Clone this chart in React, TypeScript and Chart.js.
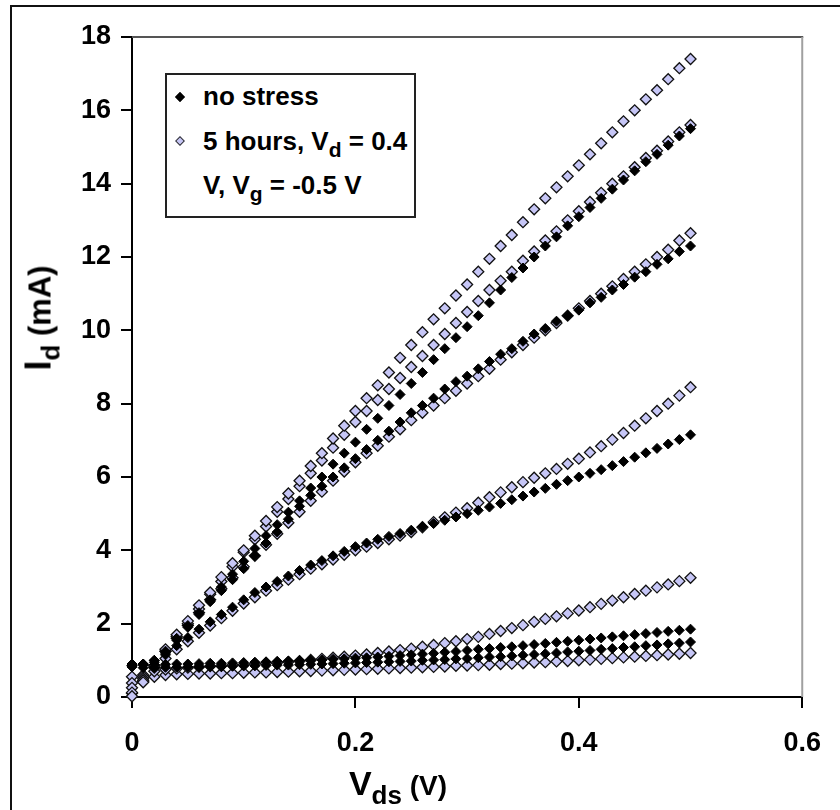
import { useEffect, useRef } from "react";
import { Chart, registerables } from "chart.js";

Chart.register(...registerables);

// Drain-source voltage sweep (V)
const VDS = [
  0, 0.01, 0.02, 0.03, 0.04, 0.05, 0.06, 0.07, 0.08, 0.09,
  0.1, 0.11, 0.12, 0.13, 0.14, 0.15, 0.16, 0.17, 0.18, 0.19,
  0.2, 0.21, 0.22, 0.23, 0.24, 0.25, 0.26, 0.27, 0.28, 0.29,
  0.3, 0.31, 0.32, 0.33, 0.34, 0.35, 0.36, 0.37, 0.38, 0.39,
  0.4, 0.41, 0.42, 0.43, 0.44, 0.45, 0.46, 0.47, 0.48, 0.49, 0.5,
];

// Drain current (mA), unstressed device, one curve per gate bias
const ID_FRESH_1 = [
  0.85, 0.9, 1.0, 1.25, 1.6, 1.95, 2.3, 2.65, 3.0, 3.35,
  3.7, 4.05, 4.4, 4.7, 5.04, 5.35, 5.7, 6.0, 6.35, 6.65,
  6.95, 7.3, 7.6, 7.95, 8.25, 8.55, 8.85, 9.2, 9.5, 9.8,
  10.1, 10.4, 10.75, 11.1, 11.44, 11.7, 12.0, 12.3, 12.55, 12.85,
  13.1, 13.35, 13.6, 13.85, 14.1, 14.35, 14.6, 14.8, 15.05, 15.3, 15.5,
];
const ID_FRESH_2 = [
  0.85, 0.9, 1.0, 1.2, 1.55, 1.9, 2.25, 2.6, 2.9, 3.2,
  3.5, 3.85, 4.2, 4.5, 4.85, 5.2, 5.5, 5.75, 6.0, 6.25,
  6.5, 6.75, 7.0, 7.25, 7.5, 7.75, 7.95, 8.15, 8.4, 8.6,
  8.75, 8.95, 9.15, 9.35, 9.5, 9.7, 9.9, 10.05, 10.25, 10.4,
  10.55, 10.75, 10.9, 11.1, 11.25, 11.45, 11.6, 11.8, 11.95, 12.15, 12.3,
];
const ID_FRESH_3 = [
  0.85, 0.88, 0.95, 1.15, 1.4, 1.62, 1.85, 2.05, 2.25, 2.45,
  2.65, 2.85, 3.0, 3.15, 3.3, 3.45, 3.6, 3.72, 3.85, 3.97,
  4.1, 4.2, 4.3, 4.38, 4.46, 4.55, 4.64, 4.73, 4.82, 4.91,
  5.0, 5.09, 5.18, 5.28, 5.38, 5.48, 5.59, 5.69, 5.8, 5.9,
  6.0, 6.1, 6.2, 6.31, 6.42, 6.54, 6.66, 6.78, 6.9, 7.02, 7.15,
];
const ID_FRESH_4 = [
  0.9, 0.88, 0.88, 0.89, 0.9, 0.9, 0.91, 0.92, 0.92, 0.93,
  0.94, 0.95, 0.96, 0.97, 0.98, 0.99, 1.0, 1.01, 1.03, 1.04,
  1.06, 1.07, 1.09, 1.11, 1.13, 1.15, 1.17, 1.19, 1.22, 1.24,
  1.27, 1.3, 1.32, 1.35, 1.37, 1.4, 1.43, 1.46, 1.49, 1.52,
  1.55, 1.58, 1.61, 1.64, 1.67, 1.7, 1.73, 1.76, 1.79, 1.82, 1.85,
];
const ID_FRESH_5 = [
  0.82, 0.8, 0.8, 0.81, 0.81, 0.82, 0.82, 0.83, 0.83, 0.84,
  0.85, 0.85, 0.86, 0.87, 0.87, 0.88, 0.89, 0.9, 0.91, 0.92,
  0.93, 0.94, 0.95, 0.96, 0.97, 0.98, 1.0, 1.01, 1.02, 1.04,
  1.05, 1.07, 1.09, 1.1, 1.12, 1.14, 1.16, 1.18, 1.2, 1.23,
  1.25, 1.27, 1.3, 1.32, 1.35, 1.37, 1.4, 1.42, 1.45, 1.47, 1.5,
];

// Drain current (mA) after 5 h of stress, one curve per gate bias
const ID_STRESSED_1 = [
  0.02, 0.4, 0.85, 1.3, 1.7, 2.07, 2.5, 2.85, 3.27, 3.65,
  4.0, 4.4, 4.8, 5.18, 5.55, 5.9, 6.3, 6.65, 7.05, 7.4,
  7.8, 8.15, 8.5, 8.85, 9.25, 9.6, 9.95, 10.3, 10.6, 10.95,
  11.25, 11.6, 11.95, 12.3, 12.6, 12.95, 13.3, 13.6, 13.9, 14.2,
  14.5, 14.8, 15.1, 15.4, 15.7, 16.0, 16.3, 16.55, 16.85, 17.15, 17.4,
];
const ID_STRESSED_2 = [
  0.12, 0.45, 0.85, 1.25, 1.65, 2.0, 2.4, 2.8, 3.15, 3.55,
  3.95, 4.3, 4.65, 5.05, 5.4, 5.75, 6.1, 6.45, 6.8, 7.15,
  7.5, 7.8, 8.1, 8.4, 8.7, 9.0, 9.3, 9.6, 9.9, 10.2,
  10.5, 10.8, 11.1, 11.35, 11.6, 11.9, 12.15, 12.45, 12.7, 13.0,
  13.25, 13.5, 13.75, 14.0, 14.2, 14.45, 14.7, 14.9, 15.15, 15.4, 15.6,
];
const ID_STRESSED_3 = [
  0.25, 0.5, 0.85, 1.25, 1.6, 1.95, 2.3, 2.65, 2.95, 3.25,
  3.55, 3.85, 4.15, 4.45, 4.75, 5.05, 5.35, 5.6, 5.9, 6.15,
  6.4, 6.65, 6.85, 7.1, 7.3, 7.55, 7.75, 7.95, 8.15, 8.35,
  8.55, 8.75, 8.95, 9.2, 9.4, 9.6, 9.8, 10.0, 10.2, 10.4,
  10.6, 10.8, 11.0, 11.2, 11.4, 11.6, 11.8, 12.0, 12.2, 12.45, 12.65,
];
const ID_STRESSED_4 = [
  0.38, 0.55, 0.8, 1.05, 1.3, 1.52, 1.75, 1.95, 2.15, 2.35,
  2.55, 2.72, 2.9, 3.05, 3.2, 3.35, 3.5, 3.62, 3.75, 3.88,
  4.0, 4.1, 4.2, 4.3, 4.4, 4.5, 4.63, 4.77, 4.9, 5.03,
  5.15, 5.3, 5.45, 5.58, 5.72, 5.86, 5.98, 6.1, 6.22, 6.36,
  6.5, 6.67, 6.84, 7.02, 7.2, 7.4, 7.6, 7.8, 8.0, 8.22, 8.45,
];
const ID_STRESSED_5 = [
  0.55, 0.6, 0.7, 0.75, 0.78, 0.8, 0.82, 0.84, 0.85, 0.87,
  0.88, 0.9, 0.92, 0.94, 0.96, 0.98, 1.01, 1.04, 1.07, 1.1,
  1.13, 1.16, 1.2, 1.24, 1.28, 1.32, 1.37, 1.42, 1.47, 1.52,
  1.58, 1.64, 1.72, 1.8, 1.88, 1.96, 2.05, 2.13, 2.2, 2.28,
  2.36, 2.45, 2.54, 2.63, 2.72, 2.81, 2.9, 2.99, 3.07, 3.16, 3.25,
];
const ID_STRESSED_6 = [
  0.1, 0.42, 0.55, 0.6, 0.62, 0.63, 0.64, 0.64, 0.65, 0.65,
  0.66, 0.67, 0.67, 0.68, 0.69, 0.7, 0.71, 0.72, 0.73, 0.74,
  0.75, 0.76, 0.77, 0.78, 0.79, 0.8, 0.81, 0.82, 0.83, 0.85,
  0.86, 0.87, 0.88, 0.9, 0.91, 0.92, 0.94, 0.95, 0.97, 0.98,
  1.0, 1.02, 1.04, 1.06, 1.08, 1.1, 1.12, 1.14, 1.16, 1.18, 1.2,
];

const FRESH_CURVES = [ID_FRESH_1, ID_FRESH_2, ID_FRESH_3, ID_FRESH_4, ID_FRESH_5];
const STRESSED_CURVES = [
  ID_STRESSED_1, ID_STRESSED_2, ID_STRESSED_3,
  ID_STRESSED_4, ID_STRESSED_5, ID_STRESSED_6,
];

const X_TICKS = [0, 0.2, 0.4, 0.6];
const Y_TICKS = [0, 2, 4, 6, 8, 10, 12, 14, 16, 18];

const FONT = '"Liberation Sans", Arial, Helvetica, sans-serif';
const LAVENDER = "#c6c6f6";

const toPoints = (ys: number[]) => ys.map((y, i) => ({ x: VDS[i], y }));

// Grey frame on the top and right edges of the plot area
const plotFrame = {
  id: "plotFrame",
  beforeDatasetsDraw(chart: any) {
    const { ctx, chartArea } = chart;
    const { left, right, top, bottom } = chartArea;
    ctx.save();
    ctx.lineWidth = 2;
    ctx.strokeStyle = "#555555";
    ctx.beginPath();
    ctx.moveTo(left, top);
    ctx.lineTo(right + 1, top);
    ctx.stroke();
    ctx.strokeStyle = "#a0a0a0";
    ctx.beginPath();
    ctx.moveTo(right, top);
    ctx.lineTo(right, bottom);
    ctx.stroke();
    ctx.restore();
  },
};

export default function App() {
  const canvasRef = useRef<HTMLCanvasElement | null>(null);

  useEffect(() => {
    if (!canvasRef.current) return;

    const freshSets = FRESH_CURVES.map((ys, i) => ({
      label: `no stress ${i + 1}`,
      data: toPoints(ys),
      pointStyle: "rectRot",
      pointRadius: 5,
      backgroundColor: "#000000",
      borderColor: "#000000",
      borderWidth: 1,
      showLine: false,
      clip: false as const,
    }));
    const stressedSets = STRESSED_CURVES.map((ys, i) => ({
      label: `stressed ${i + 1}`,
      data: toPoints(ys),
      pointStyle: "rectRot",
      pointRadius: 5.5,
      backgroundColor: LAVENDER,
      borderColor: "#111111",
      borderWidth: 1.3,
      showLine: false,
      clip: false as const,
    }));

    const chart = new Chart(canvasRef.current, {
      type: "scatter",
      data: { datasets: [...freshSets, ...stressedSets] as any },
      plugins: [plotFrame],
      options: {
        animation: false,
        responsive: false,
        devicePixelRatio: 1,
        layout: { padding: { left: 0, top: 37, right: 37, bottom: 0 } },
        plugins: {
          legend: { display: false },
          tooltip: { enabled: false },
        },
        scales: {
          x: {
            type: "linear",
            min: 0,
            max: 0.6,
            afterBuildTicks: (scale: any) => {
              scale.ticks = X_TICKS.map((v) => ({ value: v }));
            },
            afterFit: (scale: any) => {
              scale.height = 113;
            },
            ticks: {
              color: "#000000",
              padding: 19,
              font: { family: FONT, size: 27, weight: "bold" },
              callback: (v: any) => String(v),
            },
            grid: {
              drawOnChartArea: false,
              drawTicks: true,
              tickLength: 11,
              color: "#000000",
              lineWidth: 2,
            },
            border: { display: true, color: "#000000", width: 2 },
          },
          y: {
            type: "linear",
            min: 0,
            max: 18,
            afterBuildTicks: (scale: any) => {
              scale.ticks = Y_TICKS.map((v) => ({ value: v }));
            },
            afterFit: (scale: any) => {
              scale.width = 132;
            },
            ticks: {
              color: "#000000",
              padding: 10,
              font: { family: FONT, size: 27, weight: "bold" },
              callback: (v: any) => String(v),
            },
            grid: {
              drawOnChartArea: false,
              drawTicks: true,
              tickLength: 11,
              color: "#000000",
              lineWidth: 2,
            },
            border: { display: true, color: "#000000", width: 2 },
          },
        },
      } as any,
    });

    return () => chart.destroy();
  }, []);

  const diamond = (fill: string, border: string, size: number) => ({
    position: "absolute" as const,
    width: size,
    height: size,
    background: fill,
    border: `1px solid ${border}`,
    boxSizing: "border-box" as const,
    transform: "translate(-50%, -50%) rotate(45deg)",
  });

  const legendLine = {
    position: "absolute" as const,
    left: 203,
    fontFamily: FONT,
    fontWeight: "bold" as const,
    fontSize: 26,
    lineHeight: "26px",
    whiteSpace: "nowrap" as const,
    color: "#000",
  };
  const sub = (size: number, drop: number) => ({
    fontSize: size,
    position: "relative" as const,
    top: drop,
  });

  return (
    <div
      style={{
        position: "fixed",
        left: 0,
        top: 0,
        width: 840,
        height: 810,
        background: "#ffffff",
        overflow: "hidden",
      }}
    >
      <canvas ref={canvasRef} width={840} height={810} style={{ display: "block" }} />

      {/* outer figure frame */}
      <div
        style={{
          position: "absolute",
          left: 10,
          top: 5,
          width: 900,
          height: 900,
          borderLeft: "2px solid #111",
          borderTop: "2px solid #111",
          pointerEvents: "none",
        }}
      />

      {/* legend */}
      <div
        style={{
          position: "absolute",
          left: 165,
          top: 73,
          width: 251,
          height: 145,
          border: "2px solid #222",
          boxSizing: "border-box",
          background: "#fff",
        }}
      />
      <div style={{ ...diamond("#000", "#000", 7), left: 180, top: 97 }} />
      <div style={{ ...diamond(LAVENDER, "#333", 7), left: 180, top: 141 }} />
      <div style={{ ...legendLine, top: 83 }}>no stress</div>
      <div style={{ ...legendLine, top: 128 }}>
        5 hours, V<span style={sub(21, 7)}>d</span> = 0.4
      </div>
      <div style={{ ...legendLine, top: 172 }}>
        V, V<span style={sub(21, 7)}>g</span> = -0.5 V
      </div>

      {/* y axis title */}
      <div
        style={{
          position: "absolute",
          left: 42,
          top: 318,
          transform: "translate(-50%, -50%) rotate(-90deg)",
          whiteSpace: "nowrap",
          fontFamily: FONT,
          fontWeight: "bold",
          color: "#000",
          lineHeight: "38px",
        }}
      >
        <span style={{ fontSize: 36 }}>I</span>
        <span style={sub(26, 9)}>d</span>
        <span style={{ fontSize: 31 }}> (mA)</span>
      </div>

      {/* x axis title */}
      <div
        style={{
          position: "absolute",
          left: 398,
          top: 786,
          transform: "translate(-50%, -50%)",
          whiteSpace: "nowrap",
          fontFamily: FONT,
          fontWeight: "bold",
          color: "#000",
          lineHeight: "38px",
        }}
      >
        <span style={{ fontSize: 34 }}>V</span>
        <span style={sub(26, 9)}>ds</span>
        <span style={{ fontSize: 28 }}> (V)</span>
      </div>
    </div>
  );
}
